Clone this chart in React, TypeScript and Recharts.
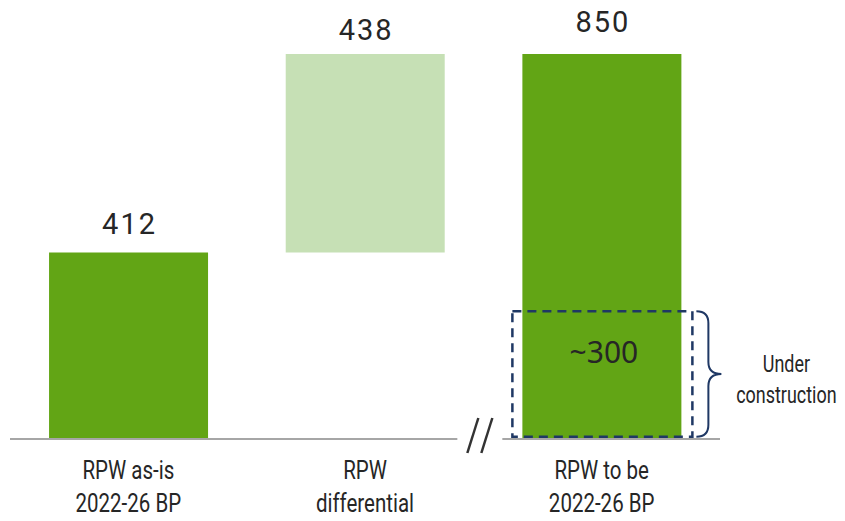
import * as React from "react"
import { BarChart, Bar, XAxis, YAxis, Cell, LabelList, ReferenceLine } from "recharts"

const categories = ["asIs", "differential", "toBe"]
const tickLines = [
  ["RPW as-is", "2022-26 BP"],
  ["RPW", "differential"],
  ["RPW to be", "2022-26 BP"],
]
const baseValues = [0, 412, 0]
const barValues = [412, 438, 850]
const barKinds = ["total", "delta", "total"]

// dashed "under construction" part of the last bar
const constructionFrom = 5
const constructionTo = 282
const constructionLabel = "~300"
const constructionNote = ["Under", "construction"]

const DARK_GREEN = "#62a515"
const LIGHT_GREEN = "#c6e0b5"
const NAVY = "#1f3864"
const TEXT = "#262626"
const FONT = "Roboto, 'Noto Sans', sans-serif"

// distance from bar top to label baseline
const labelLift = [18, 14, 22]

const data = categories.map((name, i) => ({
  name,
  base: baseValues[i],
  value: barValues[i],
}))

// narrow text, squeezed horizontally
const NarrowText = ({ x, y, size, squeeze = 0.82, children }: any) => (
  <text
    transform={`translate(${x} ${y}) scale(${squeeze} 1)`}
    textAnchor="middle"
    fill={TEXT}
    fontSize={size}
    fontFamily={FONT}
  >
    {children}
  </text>
)

const CategoryTick = (props: any) => {
  const { x, y, index } = props
  const lines = tickLines[index] || []
  return (
    <g>
      {lines.map((line, i) => (
        <NarrowText key={i} x={x} y={y + 32 + i * 33} size={25}>
          {line}
        </NarrowText>
      ))}
    </g>
  )
}

const ValueLabel = (props: any) => {
  const { x, y, width, index, value } = props
  return (
    <text
      x={x + width / 2 + 1}
      y={y - labelLift[index]}
      textAnchor="middle"
      fill={TEXT}
      fontSize={29}
      fontFamily={FONT}
      style={{ letterSpacing: 2 }}
    >
      {value}
    </text>
  )
}

const ConstructionMark = (props: any) => {
  const { x, y, width, height, value, index } = props
  if (index !== barKinds.length - 1) return null
  const unit = height / value
  const zero = y + height
  const top = zero - constructionTo * unit
  const bottom = zero - constructionFrom * unit
  const left = x - 10
  const right = x + width + 11
  const bx = x + width + 15
  const bm = bx + 12
  const tip = bx + 25
  const mid = (top + bottom) / 2
  const r = 12
  const brace = `M ${bx} ${top} Q ${bm} ${top} ${bm} ${top + r} L ${bm} ${mid - r} Q ${bm} ${mid} ${tip} ${mid} Q ${bm} ${mid} ${bm} ${mid + r} L ${bm} ${bottom - r} Q ${bm} ${bottom} ${bx} ${bottom}`
  return (
    <g>
      <rect
        x={left}
        y={top}
        width={right - left}
        height={bottom - top}
        fill="none"
        stroke={NAVY}
        strokeWidth={2.5}
        strokeDasharray="9 6"
      />
      <text
        x={x + width / 2 + 2}
        y={top + 52}
        textAnchor="middle"
        fill={TEXT}
        fontSize={30}
        fontFamily="'Noto Sans', sans-serif"
      >
        {constructionLabel}
      </text>
      <path d={brace} fill="none" stroke={NAVY} strokeWidth={2} />
      {constructionNote.map((line, i) => (
        <NarrowText key={i} x={x + width + 105} y={mid - 2 + i * 31} size={23} squeeze={0.78}>
          {line}
        </NarrowText>
      ))}
    </g>
  )
}

// baseline with a "//" break between the 2nd and 3rd category
const BrokenBaseline = (props: any) => {
  const { x1, y1, x2 } = props
  const mid = x1 + ((x2 - x1) * 2) / 3
  return (
    <g>
      <line x1={x1} y1={y1} x2={mid - 26} y2={y1} stroke="#a6a6a6" strokeWidth={2} />
      <line x1={mid + 19} y1={y1} x2={x2} y2={y1} stroke="#a6a6a6" strokeWidth={2} />
      <line x1={mid - 16} y1={y1 + 14} x2={mid - 5} y2={y1 - 21} stroke="#333" strokeWidth={2.5} />
      <line x1={mid - 2} y1={y1 + 14} x2={mid + 9} y2={y1 - 21} stroke="#333" strokeWidth={2.5} />
    </g>
  )
}

export default function App() {
  return (
    <div style={{ width: 845, height: 521, margin: -8 }}>
      <BarChart
        width={845}
        height={521}
        data={data}
        margin={{ top: 54, right: 125, left: 10, bottom: 12 }}
        barCategoryGap="16.5%"
      >
        <XAxis
          dataKey="name"
          axisLine={false}
          tickLine={false}
          interval={0}
          height={70}
          tick={<CategoryTick />}
        />
        <YAxis hide domain={[0, 850]} />
        <Bar dataKey="base" stackId="w" fill="transparent" isAnimationActive={false} />
        <Bar dataKey="value" stackId="w" isAnimationActive={false}>
          {data.map((d, i) => (
            <Cell key={d.name} fill={barKinds[i] === "delta" ? LIGHT_GREEN : DARK_GREEN} />
          ))}
          <LabelList dataKey="value" content={<ValueLabel />} />
          <LabelList dataKey="value" content={<ConstructionMark />} />
        </Bar>
        <ReferenceLine y={0} shape={<BrokenBaseline />} />
      </BarChart>
    </div>
  )
}
